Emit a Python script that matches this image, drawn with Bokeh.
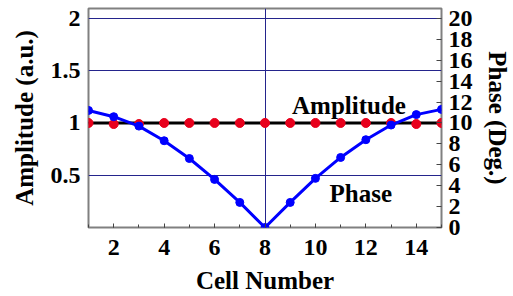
from bokeh.plotting import figure
from bokeh.models import Range1d, LinearAxis, FixedTicker, Label
from bokeh.embed import file_html
from bokeh.resources import INLINE

cells = list(range(1, 16))
amplitude = [1.0, 0.99, 0.99, 1.0, 1.0, 1.0, 1.0, 1.0, 1.0, 1.0, 1.0, 1.0, 1.0, 0.99, 1.0]
amp_theory = [1.0] * 15
phase = [11.2, 10.6, 9.7, 8.3, 6.6, 4.6, 2.4, 0.0, 2.4, 4.7, 6.7, 8.4, 9.8, 10.8, 11.3]

x_ticks = [2, 4, 6, 8, 10, 12, 14]
left_ticks = [0.5, 1, 1.5, 2]
right_ticks = [0, 2, 4, 6, 8, 10, 12, 14, 16, 18, 20]

FONT = "Times New Roman"
GRID = "#24248c"

p = figure(width=513, height=296, output_backend="svg", toolbar_location=None,
           x_range=Range1d(1, 15), y_range=Range1d(0, 2.095),
           min_border_left=88, min_border_right=70, min_border_top=8, min_border_bottom=68)
p.extra_y_ranges = {"phase": Range1d(0, 20.95)}

p.outline_line_color = "#808080"
p.outline_line_width = 2
p.outline_line_alpha = 1

p.xgrid.ticker = FixedTicker(ticks=[8])
p.ygrid.ticker = FixedTicker(ticks=left_ticks)
p.xgrid.grid_line_color = GRID
p.ygrid.grid_line_color = GRID
p.xgrid.grid_line_width = 1
p.ygrid.grid_line_width = 1


def style(ax):
    ax.axis_line_color = None
    ax.major_label_text_font = FONT
    ax.major_label_text_font_style = "bold"
    ax.major_label_text_font_size = "24px"
    ax.major_label_text_color = "black"
    ax.axis_label_text_font = FONT
    ax.axis_label_text_font_style = "bold"
    ax.axis_label_text_font_size = "25px"
    ax.axis_label_text_color = "black"
    ax.major_tick_line_color = "#444444"
    ax.minor_tick_line_color = "#444444"


xa = p.xaxis[0]
style(xa)
xa.ticker = FixedTicker(ticks=x_ticks, minor_ticks=cells)
xa.major_tick_in = 4
xa.major_tick_out = 0
xa.minor_tick_in = 3
xa.minor_tick_out = 0
xa.axis_label = "Cell Number"
xa.major_label_standoff = 12
xa.axis_label_standoff = 9

ya = p.yaxis[0]
style(ya)
ya.ticker = FixedTicker(ticks=left_ticks)
ya.major_tick_in = 0
ya.major_tick_out = 0
ya.minor_tick_line_color = None
ya.axis_label = "Amplitude (a.u.)"
ya.major_label_standoff = 8
ya.axis_label_standoff = 10

ra = LinearAxis(y_range_name="phase", axis_label="Phase (Deg.)")
style(ra)
ra.ticker = FixedTicker(ticks=right_ticks)
ra.major_tick_in = 5
ra.major_tick_out = 0
ra.minor_tick_line_color = None
ra.major_label_standoff = 7
ra.axis_label_standoff = 8
p.add_layout(ra, "right")

p.line(cells, amp_theory, line_color="black", line_width=3)
p.scatter(cells, amplitude, size=9, fill_color="#e8001c", line_color="#e8001c")
p.line(cells, phase, y_range_name="phase", line_color="#0000ff", line_width=3)
p.scatter(cells, phase, y_range_name="phase", size=8, fill_color="#0000ff", line_color="#0000ff")

p.add_layout(Label(x=11.33, y=1.17, text="Amplitude", text_font=FONT, text_font_style="bold",
                   text_font_size="25px", text_color="black", text_align="center",
                   text_baseline="alphabetic"))
p.add_layout(Label(x=11.8, y=0.33, text="Phase", text_font=FONT, text_font_style="bold",
                   text_font_size="25px", text_color="black", text_align="center",
                   text_baseline="alphabetic"))

open("out.html", "w").write(file_html(p, INLINE))
